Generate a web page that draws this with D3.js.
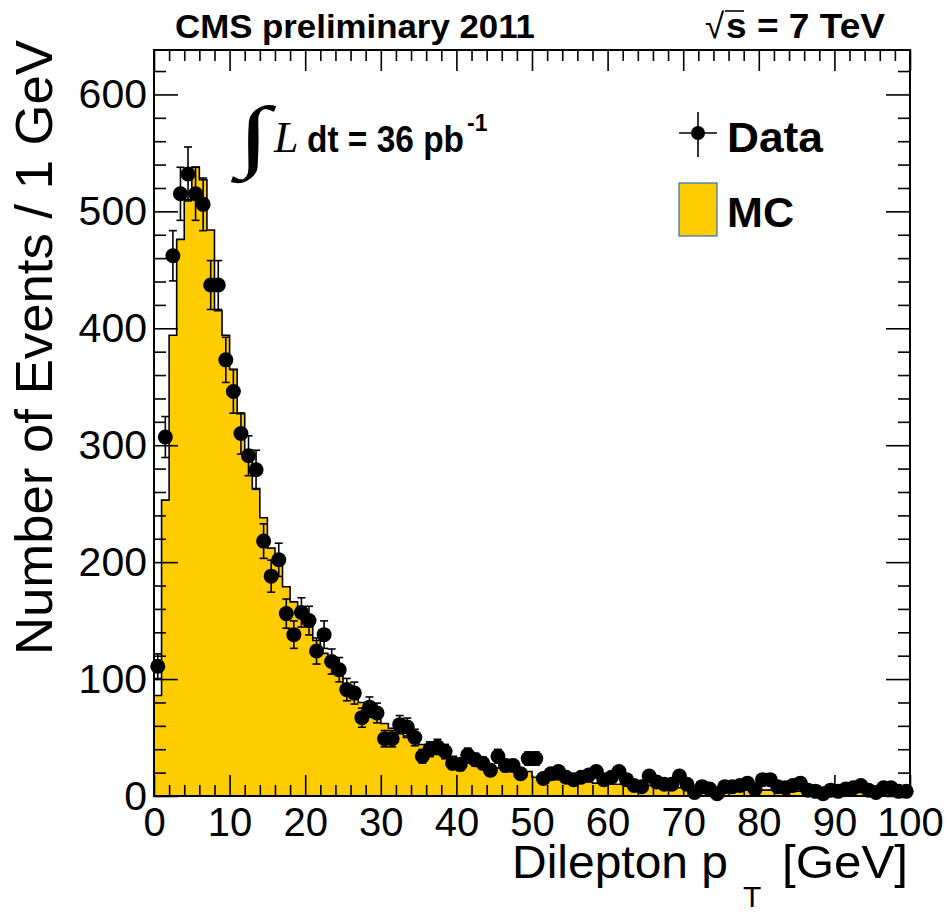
<!DOCTYPE html>
<html><head><meta charset="utf-8">
<script src="https://cdn.jsdelivr.net/npm/d3@7"></script>
<style>body{margin:0;background:#fff} svg{display:block}</style>
</head><body>
<svg id="c" width="949" height="912"></svg>
<script>
// ---- data ----
const binWidth = 1; // GeV per bin
const xDomain = [0, 100];
const yMax = 638;
const dataCounts = [
 111,307,462,515,532,515,506,437,437,373,
 346,310,291,279,218,188,202,156,138,157,
 150,124,138,115,108,91,88,67,76,71,
 49,49,61,59,50,34,40,42,38,28,
 27,35,31,28,22,34,26,26,19,32,
 32,15,19,21,16,14,16,18,21,14,
 16,21,14,9,8,17,12,10,10,17,
 10,3,8,6,2,8,8,9,11,6,
 14,14,8,7,9,11,5,4,2,5,
 4,6,7,9,5,3,7,7,4,4];
const mcCounts = [
 86,253,394,476,510,538,527,484,415,394,
 365,327,292,263,238,212,198,179,166,158,
 145,133,122,112,103,95,87,80,74,67,
 62,58,54,50,47,44,41,39,37,34,
 29,28,27,26,25,24,23,23,22,21,
 16,15,14,14,13,13,12,12,11,11,
 10,10,10,9,9,9,8,8,8,7,
 7,7,6,6,6,6,5,5,5,5,
 5,5,4,4,4,4,4,4,3,3,
 3,3,3,3,3,3,2,2,2,2];
const xMajorTicks = [0,10,20,30,40,50,60,70,80,90,100];
const yMajorTicks = [0,100,200,300,400,500,600];
const xMinorStep = 2;
const yMinorStep = 20;

// ---- setup ----
const svg = d3.select("#c");
const F = {left:154, right:910, top:50, bottom:796};
const x = d3.scaleLinear().domain(xDomain).range([F.left, F.right]);
const y = d3.scaleLinear().domain([0, yMax]).range([F.bottom, F.top]);
const SANS = "'Liberation Sans', Arial, Helvetica, sans-serif";
const SERIF = "'Liberation Serif', 'Times New Roman', serif";
const MCFILL = "#ffcc00";

// ---- MC histogram ----
const pts = [[0,0]];
mcCounts.forEach((v,i)=>{ pts.push([i*binWidth, v]); pts.push([(i+1)*binWidth, v]); });
pts.push([mcCounts.length*binWidth, 0]);
const line = d3.line().x(d=>x(d[0])).y(d=>y(d[1]));
svg.append("path").attr("d", line(pts)+"Z").attr("fill", MCFILL).attr("stroke","none");
svg.append("path").attr("d", line(pts)).attr("fill","none").attr("stroke","#000").attr("stroke-width",1.6);

// ---- axes (ticks inward) ----
const xMinor = d3.range(xDomain[0], xDomain[1]+0.001, xMinorStep).filter(v=>!xMajorTicks.includes(v));
const yMinor = d3.range(0, yMax, yMinorStep).filter(v=>!yMajorTicks.includes(v));
function styleAxis(g){ g.select(".domain").remove(); g.selectAll("line").attr("stroke","#000").attr("stroke-width",1.6); }

svg.append("g").attr("transform",`translate(0,${F.bottom})`)
  .call(d3.axisBottom(x).tickValues(xMajorTicks).tickSizeInner(-21).tickSizeOuter(0).tickPadding(12).tickFormat(d3.format("d")))
  .call(styleAxis)
  .call(g=>g.selectAll("text").attr("font-family",SANS).attr("font-size",40).attr("fill","#000"));
svg.append("g").attr("transform",`translate(0,${F.bottom})`)
  .call(d3.axisBottom(x).tickValues(xMinor).tickSizeInner(-11).tickSizeOuter(0).tickFormat(""))
  .call(styleAxis);
svg.append("g").attr("transform",`translate(0,${F.top})`)
  .call(d3.axisTop(x).tickValues(xMajorTicks).tickSizeInner(-21).tickSizeOuter(0).tickFormat(""))
  .call(styleAxis);
svg.append("g").attr("transform",`translate(0,${F.top})`)
  .call(d3.axisTop(x).tickValues(xMinor).tickSizeInner(-11).tickSizeOuter(0).tickFormat(""))
  .call(styleAxis);

svg.append("g").attr("transform",`translate(${F.left},0)`)
  .call(d3.axisLeft(y).tickValues(yMajorTicks).tickSizeInner(-24).tickSizeOuter(0).tickPadding(7).tickFormat(d3.format("d")))
  .call(styleAxis)
  .call(g=>g.selectAll("text").attr("font-family",SANS).attr("font-size",41).attr("fill","#000"));
svg.append("g").attr("transform",`translate(${F.left},0)`)
  .call(d3.axisLeft(y).tickValues(yMinor).tickSizeInner(-12).tickSizeOuter(0).tickFormat(""))
  .call(styleAxis);
svg.append("g").attr("transform",`translate(${F.right},0)`)
  .call(d3.axisRight(y).tickValues(yMajorTicks).tickSizeInner(-24).tickSizeOuter(0).tickFormat(""))
  .call(styleAxis);
svg.append("g").attr("transform",`translate(${F.right},0)`)
  .call(d3.axisRight(y).tickValues(yMinor).tickSizeInner(-12).tickSizeOuter(0).tickFormat(""))
  .call(styleAxis);

svg.append("rect").attr("x",F.left).attr("y",F.top).attr("width",F.right-F.left).attr("height",F.bottom-F.top)
  .attr("fill","none").attr("stroke","#000").attr("stroke-width",2);

// ---- data points ----
const dp = svg.append("g");
dataCounts.forEach((v,i)=>{
  const cx = x((i+0.5)*binWidth);
  const e = Math.sqrt(v);
  const y1 = y(v+e), y2 = y(Math.max(0,v-e));
  dp.append("line").attr("x1",cx).attr("x2",cx).attr("y1",y1).attr("y2",y2).attr("stroke","#000").attr("stroke-width",1.6);
  [y1,y2].forEach(yy=>dp.append("line").attr("x1",cx-4).attr("x2",cx+4).attr("y1",yy).attr("y2",yy).attr("stroke","#000").attr("stroke-width",1.6));
  dp.append("circle").attr("cx",cx).attr("cy",y(v)).attr("r",7.5).attr("fill","#000");
});

// ---- legend ----
const lg = svg.append("g");
lg.append("line").attr("x1",679).attr("x2",717).attr("y1",133).attr("y2",133).attr("stroke","#000").attr("stroke-width",1.6);
lg.append("line").attr("x1",698).attr("x2",698).attr("y1",112).attr("y2",157).attr("stroke","#000").attr("stroke-width",1.6);
lg.append("circle").attr("cx",698).attr("cy",133).attr("r",7).attr("fill","#000");
lg.append("text").attr("x",727).attr("y",152).attr("font-family",SANS).attr("font-weight","bold").attr("font-size",42)
  .attr("textLength",96).attr("lengthAdjust","spacingAndGlyphs").text("Data");
lg.append("rect").attr("x",679).attr("y",183).attr("width",38).attr("height",53).attr("fill",MCFILL).attr("stroke","#2a6fc0").attr("stroke-width",1.2);
lg.append("text").attr("x",727).attr("y",227).attr("font-family",SANS).attr("font-weight","bold").attr("font-size",42)
  .attr("textLength",67).attr("lengthAdjust","spacingAndGlyphs").text("MC");

// ---- luminosity text ----
svg.append("text").attr("transform","translate(237,162) scale(1.5,1)").attr("font-family",SERIF).attr("font-style","italic").attr("font-size",80).text("\u222B");
svg.append("text").attr("x",274).attr("y",152).attr("font-family",SERIF).attr("font-style","italic").attr("font-size",44).text("L");
svg.append("text").attr("x",307).attr("y",152).attr("font-family",SANS).attr("font-weight","bold").attr("font-size",36)
  .attr("textLength",157).attr("lengthAdjust","spacingAndGlyphs").text("dt = 36 pb");
svg.append("text").attr("x",467).attr("y",131).attr("font-family",SANS).attr("font-weight","bold").attr("font-size",23).text("-1");

// ---- header ----
svg.append("text").attr("x",175).attr("y",38).attr("font-family",SANS).attr("font-weight","bold").attr("font-size",34)
  .attr("textLength",360).attr("lengthAdjust","spacingAndGlyphs").text("CMS preliminary 2011");
svg.append("text").attr("x",705).attr("y",38).attr("font-family",SANS).attr("font-size",35).text("\u221A");
svg.append("line").attr("x1",725).attr("x2",744).attr("y1",11).attr("y2",11).attr("stroke","#000").attr("stroke-width",1.6);
svg.append("text").attr("x",726).attr("y",38).attr("font-family",SANS).attr("font-weight","bold").attr("font-size",35)
  .attr("textLength",159).attr("lengthAdjust","spacingAndGlyphs").text("s = 7 TeV");

// ---- axis titles ----
svg.append("text").attr("x",512).attr("y",878).attr("font-family",SANS).attr("font-size",47)
  .attr("textLength",216).attr("lengthAdjust","spacingAndGlyphs").text("Dilepton p");
svg.append("text").attr("x",743).attr("y",907).attr("font-family",SANS).attr("font-size",30).text("T");
svg.append("text").attr("x",782).attr("y",878).attr("font-family",SANS).attr("font-size",47)
  .attr("textLength",126).attr("lengthAdjust","spacingAndGlyphs").text("[GeV]");
svg.append("text").attr("transform","translate(52,40) rotate(-90)").attr("text-anchor","end")
  .attr("font-family",SANS).attr("font-size",52).attr("textLength",615).attr("lengthAdjust","spacingAndGlyphs").text("Number of Events / 1 GeV");
</script>
</body></html>
